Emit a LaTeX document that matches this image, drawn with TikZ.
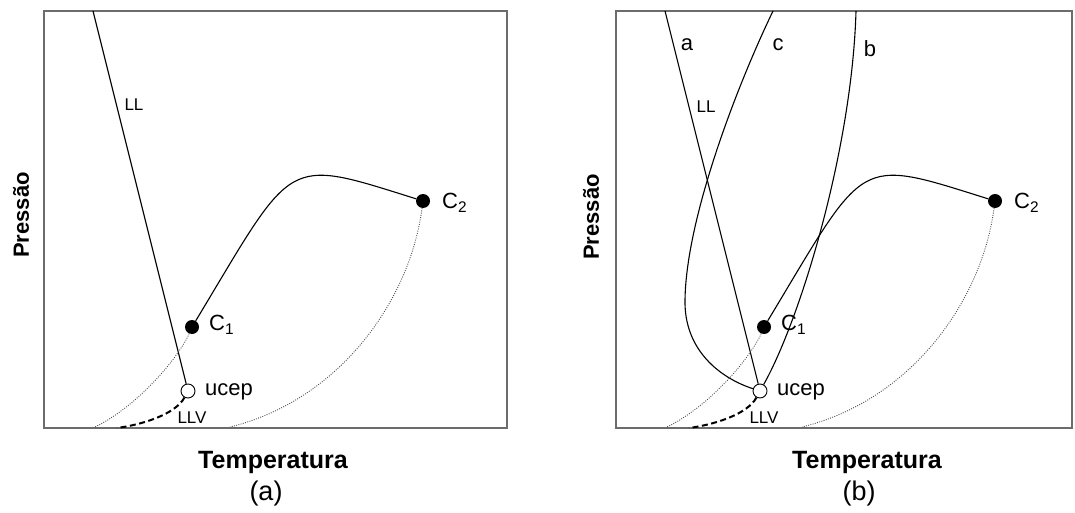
\documentclass[tikz,border=0pt]{standalone}
\usepackage{fontspec}
\setmainfont{Liberation Sans}
\tikzset{
  plotframe/.style={draw=gray!85!black, line width=1.4pt},
  phasecurve/.style={line width=1.1pt},
  dotcurve/.style={line width=0.9pt, gray!60!black, dash pattern=on 0.9pt off 1.4pt},
  llvcurve/.style={line width=2pt, dash pattern=on 6pt off 3.5pt},
  critdot/.style={circle, fill=black, minimum size=14pt, inner sep=0pt},
  ucepdot/.style={circle, draw=black, line width=0.9pt, fill=white, minimum size=14pt, inner sep=0pt},
  axislbl/.style={font=\fontsize{22}{26}\selectfont\bfseries, inner sep=0pt},
  templbl/.style={font=\fontsize{25}{28}\selectfont\bfseries, inner sep=0pt},
  caplbl/.style={font=\fontsize{27}{30}\selectfont, inner sep=0pt},
  ptlbl/.style={font=\fontsize{22}{25}\selectfont, inner sep=0pt, anchor=west},
  smalllbl/.style={font=\fontsize{17}{20}\selectfont, inner sep=0pt},
}
\begin{document}
\begin{tikzpicture}[x=1pt,y=-1pt]
\useasboundingbox (0,0) rectangle (1075,513);
% (a)
\draw[plotframe] (44,11) rectangle (507,428);
\coordinate (aLLtop) at (93,11);
\coordinate (aC1end) at (95,427);
\coordinate (aC2end) at (230,427);
\coordinate (aLLVend) at (117,428);
\node[critdot] (aC1) at (192,327) {};
\node[critdot] (aC2) at (423,201) {};
\node[ucepdot] (aU) at (188,391) {};
\draw[phasecurve] (aLLtop) -- (aU);
\draw[phasecurve] (aC1) .. controls (295,156) and (283,157) .. (aC2);
\draw[dotcurve] (aC1) .. controls (180,355) and (140,405) .. (aC1end);
\draw[dotcurve] (aC2) .. controls (410,300) and (340,400) .. (aC2end);
\draw[llvcurve] (aU) .. controls (175,415) and (140,425) .. (aLLVend);
\node[smalllbl] (aLLlbl) at (134,105) {LL};
\node[smalllbl] (aLLVlbl) at (192,418) {LLV};
\node[ptlbl] (aUlbl) at (205,392) {ucep};
\node[ptlbl] (aC1lbl) at (209,325) {C\textsubscript{1}};
\node[ptlbl] (aC2lbl) at (442,203) {C\textsubscript{2}};
\node[axislbl, rotate=90] (aPlbl) at (21,215) {Pressão};
\node[templbl] (aTlbl) at (273,462) {Temperatura};
\node[caplbl] (aCap) at (266,494) {(a)};
% (b)
\draw[plotframe] (616,11) rectangle (1072,428);
\coordinate (bAtop) at (665,11);
\coordinate (bCtop) at (773,11);
\coordinate (bBtop) at (856,11);
\coordinate (bC1end) at (667,427);
\coordinate (bC2end) at (802,427);
\coordinate (bLLVend) at (689,428);
\node[critdot] (bC1) at (764,327) {};
\node[critdot] (bC2) at (995,201) {};
\node[ucepdot] (bU) at (760,391) {};
\draw[phasecurve] (bAtop) -- (bU);
\draw[phasecurve] (bCtop) .. controls (735,90) and (686,220) .. (685,300)
  .. controls (684,350) and (720,378) .. (bU);
\draw[phasecurve] (bBtop) .. controls (852,150) and (800,320) .. (bU);
\draw[phasecurve] (bC1) .. controls (867,156) and (855,157) .. (bC2);
\draw[dotcurve] (bC1) .. controls (752,355) and (712,405) .. (bC1end);
\draw[dotcurve] (bC2) .. controls (982,300) and (912,400) .. (bC2end);
\draw[llvcurve] (bU) .. controls (747,415) and (712,425) .. (bLLVend);
\node[ptlbl, anchor=center] (bAlbl) at (687,45) {a};
\node[ptlbl, anchor=center] (bClbl) at (778,45) {c};
\node[ptlbl, anchor=center] (bBlbl) at (870,49) {b};
\node[smalllbl] (bLLlbl) at (706,107) {LL};
\node[smalllbl] (bLLVlbl) at (764,418) {LLV};
\node[ptlbl] (bUlbl) at (777,392) {ucep};
\node[ptlbl] (bC1lbl) at (781,325) {C\textsubscript{1}};
\node[ptlbl] (bC2lbl) at (1014,203) {C\textsubscript{2}};
\node[axislbl, rotate=90] (bPlbl) at (591,217) {Pressão};
\node[templbl] (bTlbl) at (867,462) {Temperatura};
\node[caplbl] (bCap) at (859,494) {(b)};
\end{tikzpicture}
\end{document}
